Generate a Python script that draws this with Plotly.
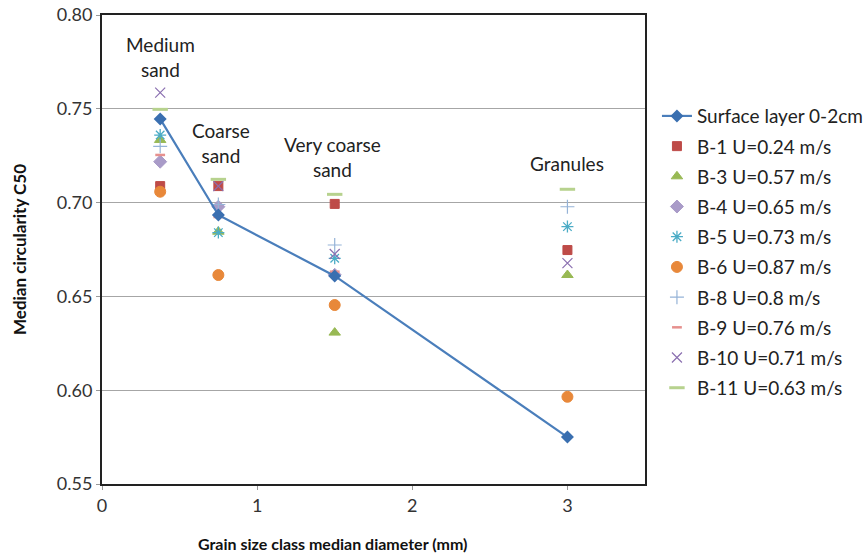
import plotly.graph_objects as go

# grain size classes (median diameter, mm)
diameters = [0.375, 0.75, 1.5, 3.0]
class_labels = ["Medium<br>sand", "Coarse<br>sand", "Very coarse<br>sand", "Granules"]
label_y = [0.7776, 0.7318, 0.7243, 0.7210]
label_x = [0.375, 0.766, 1.487, 3.0]

surface = [0.7446, 0.6934, 0.6609, 0.5750]

b1 = [0.7088, 0.7088, 0.6993, 0.6747]
b3 = [0.7334, 0.6845, 0.6307, 0.6614]
b4 = [0.7218, 0.6978, 0.6615, None]
b5 = [0.7360, 0.6840, 0.6703, 0.6872]
b6 = [0.7058, 0.6614, 0.6454, 0.5965]
b8 = [0.7300, 0.6990, 0.6774, 0.6978]
b9 = [0.7254, 0.6923, 0.6632, None]
b10 = [0.7586, 0.7088, 0.6726, 0.6677]
b11 = [0.7497, 0.7124, 0.7044, 0.7071]

series = [
    ("B-1 U=0.24 m/s", b1, "square", "#BE4B48", 9, 1),
    ("B-3 U=0.57 m/s", b3, "triangle-up", "#98B954", 10, 1),
    ("B-4 U=0.65 m/s", b4, "diamond", "#A99BC8", 10, 1),
    ("B-5 U=0.73 m/s", b5, "asterisk-open", "#4BACC6", 10, 1.3),
    ("B-6 U=0.87 m/s", b6, "circle", "#E8883A", 11, 1),
    ("B-8 U=0.8 m/s", b8, "cross-thin-open", "#95B3D7", 10, 1.2),
    ("B-9 U=0.76 m/s", b9, "line-ew-open", "#E6908E", 7, 2.5),
    ("B-10 U=0.71 m/s", b10, "x-thin-open", "#8A6FB0", 10, 1.2),
    ("B-11 U=0.63 m/s", b11, "line-ew-open", "#B7D28E", 11, 3),
]

font = "Lato, 'Open Sans', sans-serif"

fig = go.Figure()
for i, (name, vals, sym, col, size, lw) in enumerate(series):
    fig.add_trace(go.Scatter(
        x=diameters, y=vals, mode="markers", name=name, legendgroup=name,
        legendrank=i + 2,
        marker=dict(symbol=sym, size=size, color=col, line=dict(color=col, width=lw)),
    ))
# surface layer drawn last so it sits on top, but listed first in the legend
fig.add_trace(go.Scatter(
    x=diameters, y=surface, mode="lines+markers", name="Surface layer 0-2cm",
    line=dict(color="#4A7EBB", width=2.2),
    marker=dict(symbol="diamond", size=10, color="#3A6FB0"),
    legendgroup="s", legendrank=1,
))

for lx, ly, txt in zip(label_x, label_y, class_labels):
    fig.add_annotation(x=lx, y=ly, text=txt, showarrow=False,
                       font=dict(size=19, color="#222222", family=font))

fig.add_annotation(xref="paper", yref="paper", x=-0.151, y=0.499, textangle=-90,
                   xanchor="center", yanchor="middle",
                   text="<b>Median circularity C50</b>", showarrow=False,
                   font=dict(size=17, color="#111111", family=font))
fig.add_annotation(xref="paper", yref="paper", x=0.4236, y=-0.126,
                   xanchor="center", yanchor="middle",
                   text="<b>Grain size class median diameter (mm)</b>", showarrow=False,
                   font=dict(size=16, color="#111111", family=font))

fig.update_layout(
    width=866, height=559,
    margin=dict(l=102, r=221, t=15, b=75, autoexpand=False),
    paper_bgcolor="white", plot_bgcolor="white",
    font=dict(family=font, size=18, color="#222222"),
    showlegend=True,
    legend=dict(x=1.022, y=0.825, xanchor="left", yanchor="top",
                font=dict(size=19, color="#222222"), tracegroupgap=2.5,
                itemwidth=30),
)
fig.update_xaxes(range=[0, 3.5], tickvals=[0, 1, 2, 3], ticks="outside", ticklen=4,
                 tickcolor="#999999", showgrid=False, zeroline=False, automargin=False,
                 showline=True, linecolor="#222222", linewidth=2, mirror=True,
                 tickfont=dict(size=18, color="#333333"))
fig.update_yaxes(range=[0.55, 0.80], dtick=0.05, tick0=0.55, tickformat=".2f",
                 ticks="outside", ticklen=4, tickcolor="#999999", automargin=False,
                 showgrid=True, gridcolor="#A6A6A6", gridwidth=1.2, zeroline=False,
                 showline=True, linecolor="#222222", linewidth=2, mirror=True,
                 tickfont=dict(size=18, color="#333333"))

fig.write_html("out.html", config={"displayModeBar": False},
               post_script="document.body.style.margin='0';")
